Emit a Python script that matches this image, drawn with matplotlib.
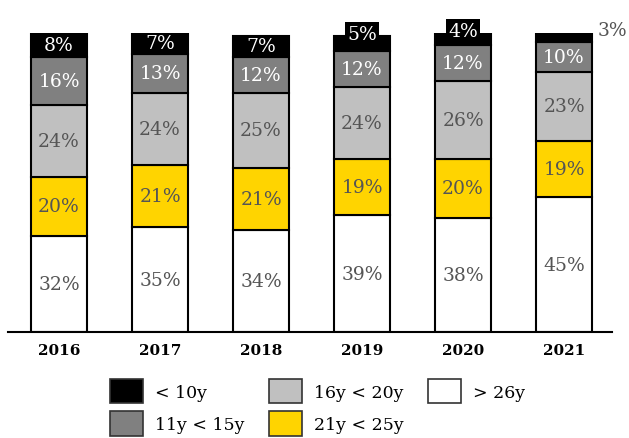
import matplotlib
matplotlib.use("Agg")
import matplotlib.pyplot as plt
from matplotlib.patches import Patch
import numpy as np

years = ["2016", "2017", "2018", "2019", "2020", "2021"]
over26 = [32, 35, 34, 39, 38, 45]
y21_25 = [20, 21, 21, 19, 20, 19]
y16_20 = [24, 24, 25, 24, 26, 23]
y11_15 = [16, 13, 12, 12, 12, 10]
under10 = [8, 7, 7, 5, 4, 3]

series = [
    ("> 26y", over26, "#ffffff", "#555555"),
    ("21y < 25y", y21_25, "#ffd400", "#555555"),
    ("16y < 20y", y16_20, "#c0c0c0", "#555555"),
    ("11y < 15y", y11_15, "#808080", "#ffffff"),
    ("< 10y", under10, "#000000", "#ffffff"),
]

plt.rcParams['font.family'] = ['DejaVu Serif']

fig = plt.figure(figsize=(6.29, 4.39), dpi=100)
ax = fig.add_axes([8/629, 1-333/439, (612-8)/629, 299/439])

FS = 13.5
x = np.arange(len(years))
bottom = np.zeros(len(years))
for name, vals, color, tcol in series:
    vals = np.array(vals, dtype=float)
    ax.bar(x, vals, bottom=bottom, width=0.56, color=color, edgecolor="black",
           linewidth=1.5, zorder=2)
    for i, v in enumerate(vals):
        cy = bottom[i] + v / 2
        if name == "< 10y":
            if v >= 7:
                ax.text(x[i], cy, f"{int(v)}%", ha="center", va="center",
                        color="white", fontsize=FS, zorder=3)
            elif v >= 4:
                ax.text(x[i], bottom[i] + v + 0.8, f"{int(v)}%", ha="center", va="center",
                        color="white", fontsize=FS, zorder=3,
                        bbox=dict(boxstyle="square,pad=0.12", fc="black", ec="none"))
            else:
                ax.text(x[i] + 0.33, bottom[i] + v + 1.0, f"{int(v)}%", ha="left", va="center",
                        color="#555555", fontsize=FS, zorder=3)
        else:
            ax.text(x[i], cy, f"{int(v)}%", ha="center", va="center",
                    color=tcol, fontsize=FS, zorder=3)
    bottom += vals

ax.set_xlim(-0.505, 5.475)
ax.set_ylim(0, 100)
for s in ["top", "right", "left"]:
    ax.spines[s].set_visible(False)
ax.spines["bottom"].set_linewidth(1.5)
ax.set_yticks([])
ax.set_xticks(x)
ax.set_xticklabels(years, fontsize=11, fontweight="bold")
ax.tick_params(axis="x", length=0, pad=8)

handles = [Patch(facecolor=c, edgecolor="#333333", linewidth=1.2, label=n)
           for n, _, c, _ in reversed(series)]
fig.legend(handles=handles, ncol=3, loc="upper left", bbox_to_anchor=(96/629, 1-366/439),
           frameon=False, fontsize=12.5, handlelength=1.9, handleheight=1.8,
           columnspacing=1.4, labelspacing=0.45, handletextpad=0.7, borderpad=0.3)

fig.savefig("out.png", dpi=100)
